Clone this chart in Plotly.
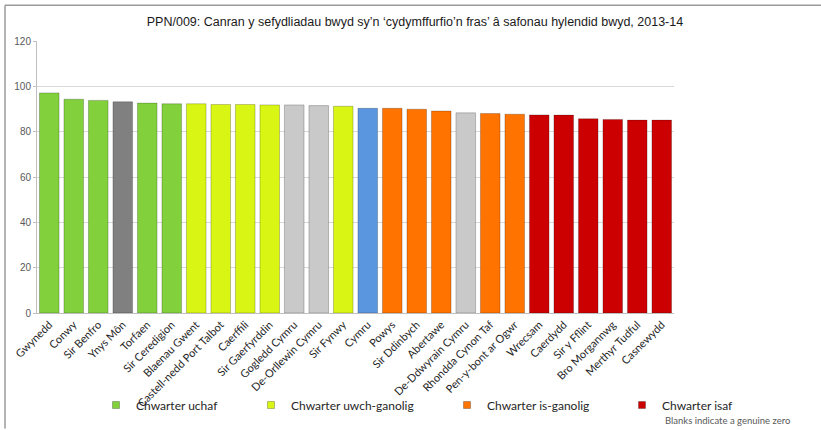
import plotly.graph_objects as go

# data
areas = ["Gwynedd", "Conwy", "Sir Benfro", "Ynys Môn", "Torfaen", "Sir Ceredigion",
         "Blaenau Gwent", "Castell-nedd Port Talbot", "Caerffili", "Sir Gaerfyrddin",
         "Gogledd Cymru", "De-Orllewin Cymru", "Sir Fynwy", "Cymru", "Powys",
         "Sir Ddinbych", "Abertawe", "De-Ddwyrain Cymru", "Rhondda Cynon Taf",
         "Pen-y-bont ar Ogwr", "Wrecsam", "Caerdydd", "Sir y Fflint", "Bro Morgannwg",
         "Merthyr Tudful", "Casnewydd"]
values = [97.1, 94.3, 93.8, 93.2, 92.6, 92.3,
          92.3, 92.0, 92.0, 91.8,
          91.8, 91.5, 91.2, 90.3, 90.3,
          89.9, 89.1, 88.3, 88.0,
          87.7, 87.4, 87.3, 85.7, 85.4,
          85.1, 85.1]
groups = ["uchaf", "uchaf", "uchaf", "nodata", "uchaf", "uchaf",
          "uwch", "uwch", "uwch", "uwch",
          "region", "region", "uwch", "wales", "is",
          "is", "is", "region", "is",
          "is", "isaf", "isaf", "isaf", "isaf",
          "isaf", "isaf"]

# group -> (legend label, colour, legend id, text start px)
styles = {
    "uchaf": ("Chwarter uchaf", "#82D03C", "legend", 129),
    "uwch": ("Chwarter uwch-ganolig", "#D9F514", "legend2", 284),
    "is": ("Chwarter is-ganolig", "#FF7300", "legend3", 480),
    "isaf": ("Chwarter isaf", "#CC0000", "legend4", 655),
    "nodata": (None, "#808080", None, None),
    "region": (None, "#C9C9C9", None, None),
    "wales": (None, "#5A95DF", None, None),
}

# plot area in pixels: x 37..674, y 41..314
L, R, T, B = 37, 147, 41, 116
W, H = 821, 430
pw, ph = W - L - R, H - T - B


def px_x(p):
    return (p - L) / pw


def px_y(p):
    return (H - B - p) / ph


fig = go.Figure()
for g, (label, colour, leg, _) in styles.items():
    xs = [a for a, gg in zip(areas, groups) if gg == g]
    ys = [v for v, gg in zip(values, groups) if gg == g]
    fig.add_trace(go.Bar(
        x=xs, y=ys, name=label or g,
        marker=dict(color=colour, line=dict(color="rgba(0,0,0,0.22)", width=1)),
        showlegend=False, legendgroup=g,
    ))
    if label:
        # small square legend key like the original
        fig.add_trace(go.Scatter(
            x=[None], y=[None], mode="markers", name=label, legend=leg, legendgroup=g,
            marker=dict(symbol="square", size=7, color=colour,
                        line=dict(color="rgba(0,0,0,0.25)", width=1)),
        ))

leg_font = dict(family="Lato, Liberation Sans, sans-serif", size=12, color="#262626")
leg_common = dict(orientation="h", yanchor="middle", y=px_y(405), xanchor="left",
                  font=leg_font, bgcolor="rgba(0,0,0,0)", itemwidth=30,
                  itemsizing="trace")
legends = {leg: dict(x=px_x(start - 33), **leg_common)
           for _, (label, _, leg, start) in styles.items() if label}

fig.update_layout(
    width=W, height=H,
    margin=dict(l=L, r=R, t=T, b=B),
    paper_bgcolor="white", plot_bgcolor="white",
    barmode="overlay", bargap=0.2,
    title=dict(
        text="PPN/009: Canran y sefydliadau bwyd sy’n ‘cydymffurfio’n fras’ â safonau hylendid bwyd, 2013-14",
        x=415 / W, xanchor="center", y=1 - 22 / H, yanchor="middle",
        font=dict(family="Liberation Sans, Arial, sans-serif", size=12.5, color="#1a1a1a"),
    ),
    xaxis=dict(
        categoryorder="array", categoryarray=areas,
        tickangle=-45, showline=True, linecolor="#BFBFBF", linewidth=1,
        tickfont=dict(family="Lato, Liberation Sans, sans-serif", size=11, color="#262626"),
        showgrid=False, ticks="",
    ),
    yaxis=dict(
        range=[0, 120], dtick=20, showgrid=True, gridcolor="#D9D9D9", gridwidth=1,
        showline=True, linecolor="#BFBFBF", ticks="outside", ticklen=3, tickcolor="#BFBFBF",
        tickfont=dict(family="Liberation Sans, Arial, sans-serif", size=10, color="#595959"),
        zeroline=False,
    ),
    showlegend=True,
    **legends,
)

# chart frame (top and left edges visible)
fig.add_shape(type="line", xref="paper", yref="paper",
              x0=px_x(5), x1=px_x(W), y0=px_y(5), y1=px_y(5),
              line=dict(color="#9A9A9A", width=1.5))
fig.add_shape(type="line", xref="paper", yref="paper",
              x0=px_x(5), x1=px_x(5), y0=px_y(5), y1=px_y(H),
              line=dict(color="#9A9A9A", width=1.5))

fig.add_annotation(text="Blanks indicate a genuine zero", xref="paper", yref="paper",
                   x=px_x(663), y=px_y(422), xanchor="left", yanchor="middle",
                   showarrow=False,
                   font=dict(family="Lato, Liberation Sans, sans-serif", size=9.5, color="#595959"))

# drop the page's default body margin so the figure sits at the window corner
fig.write_html("out.html", config={"displayModeBar": False},
               post_script="document.body.style.margin='0';")
